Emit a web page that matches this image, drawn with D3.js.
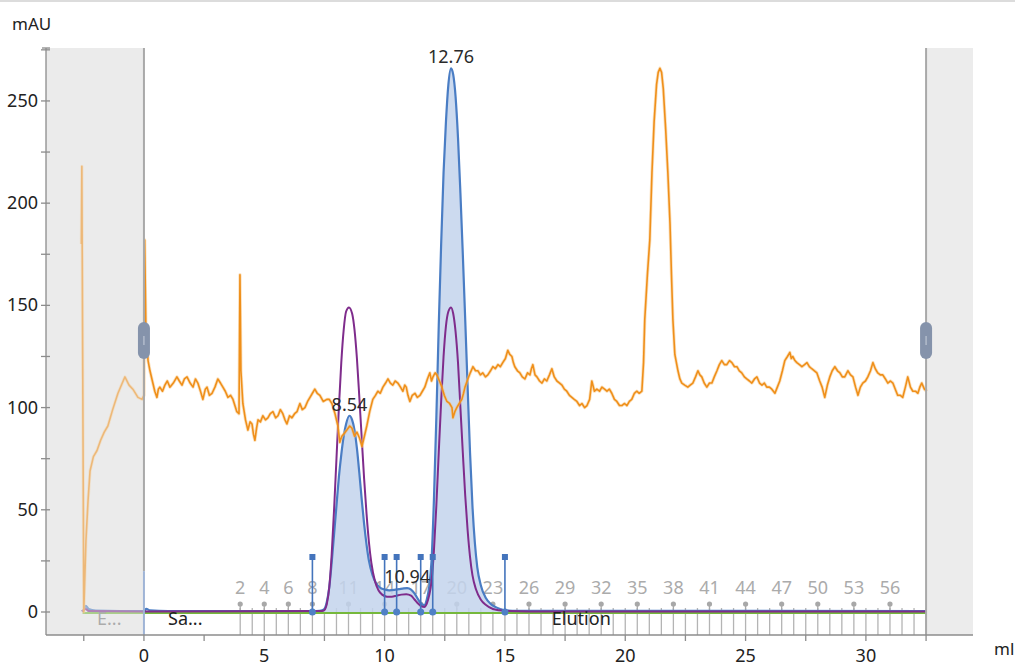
<!DOCTYPE html>
<html>
<head>
<meta charset="utf-8">
<script src="https://cdn.jsdelivr.net/npm/d3@7"></script>
<style>
  body { margin: 0; background: #fff; }
  svg { display: block; font-family: "Noto Sans", "Open Sans", sans-serif; }
</style>
</head>
<body>
<div id="chart"></div>
<script>
// chromatogram data: [ml, mAU]
var uv1 = [[-2.58,0.5],[-2.5,1],[-2.42,3],[-2.3,1.5],[-2.0,0.7],[-1,0.5],[0,0.5],[0.1,1.5],[0.25,0.8],[1,0.5],
  [7.0,0.5],[7.3,0.6],[7.4,0.8],[7.5,1.5],[7.6,5],[7.7,12],[7.8,24],[7.9,38],[8.0,52],[8.1,66],[8.2,77],[8.3,86],[8.4,92],
  [8.54,96],[8.65,94],[8.75,89],[8.85,80],[8.95,68],[9.05,55],[9.15,43],[9.25,33],[9.35,25],[9.5,18],[9.65,14],[9.8,12],
  [10.0,11],[10.2,10.6],[10.4,10.8],[10.6,11.2],[10.8,11.6],[10.94,11.7],[11.1,11],[11.25,9],[11.4,6],[11.55,3.8],[11.65,3.4],
  [11.75,6],[11.85,12],[11.95,25],[12.05,55],[12.15,95],[12.25,140],[12.35,180],[12.45,215],[12.55,240],[12.65,258],
  [12.76,266],[12.85,263],[12.95,252],[13.05,232],[13.15,205],[13.25,175],[13.35,143],[13.45,110],[13.55,78],[13.65,52],
  [13.75,34],[13.85,22],[14.0,13],[14.2,7],[14.4,4],[14.6,2.5],[14.8,1.5],[15.0,0.8],[15.5,0.6],[32.5,0.5]];

var uv2 = [[-2.58,0.3],[-2.42,1.5],[-2.3,0.5],[0,0.3],[7.4,0.5],[7.5,1],[7.6,4],[7.7,12],[7.8,28],[7.9,50],[8.0,75],[8.1,100],
  [8.2,122],[8.3,138],[8.4,147],[8.52,149],[8.65,146],[8.75,138],[8.85,124],[8.95,105],[9.05,85],[9.15,65],[9.25,48],[9.35,34],
  [9.45,24],[9.6,15],[9.75,10.5],[9.9,8.5],[10.1,7.5],[10.3,7.5],[10.5,8],[10.7,8.5],[10.9,8.7],[11.1,8],[11.25,6],[11.4,4],
  [11.55,2.7],[11.65,2.5],[11.75,4],[11.85,8],[11.95,15],[12.05,30],[12.15,52],[12.25,78],[12.35,103],[12.45,125],[12.55,140],
  [12.65,147],[12.76,149],[12.85,146],[12.95,137],[13.05,122],[13.15,100],[13.25,78],[13.35,57],[13.45,40],[13.55,27],
  [13.65,18],[13.8,11],[14.0,6],[14.2,3.5],[14.5,1.5],[15,0.6],[16,0.3],[32.5,0.3]];

var orange = [[-2.60,180],[-2.58,218],[-2.50,0],[-2.41,35],[-2.32,55],[-2.24,69],[-2.10,76],[-1.95,79],[-1.80,84],[-1.65,88],
  [-1.50,91],[-1.30,99],[-1.08,107],[-0.90,112],[-0.79,115],[-0.62,111],[-0.46,109],[-0.25,105],[-0.08,104],[0.00,106],
  [0.03,182],[0.08,140],[0.17,123],[0.25,118],[0.37,112],[0.45,108],[0.54,105],[0.60,109],[0.66,110],[0.77,108],[0.87,111],
  [0.97,113],[1.08,110],[1.22,112],[1.37,115],[1.47,113],[1.58,111],[1.68,114],[1.79,115],[1.92,112],[2.04,110],[2.14,114],
  [2.24,112],[2.35,108],[2.45,104],[2.55,109],[2.62,110],[2.72,106],[2.83,107],[2.95,110],[3.07,114],[3.18,112],[3.28,110],
  [3.38,108],[3.49,105],[3.60,106],[3.70,104],[3.86,98],[3.95,97],[3.99,165],[4.03,118],[4.11,102],[4.22,94],[4.32,89],
  [4.41,93],[4.49,92],[4.55,87],[4.61,84],[4.68,90],[4.74,94],[4.84,93],[4.94,96],[5.05,94],[5.15,95],[5.25,97],[5.36,98],
  [5.47,95],[5.57,96],[5.67,99],[5.77,97],[5.86,94],[5.94,92],[6.05,96],[6.15,95],[6.26,97],[6.36,98],[6.48,102],[6.58,99],
  [6.69,100],[6.80,103],[6.90,105],[7.00,107],[7.10,109],[7.20,107],[7.31,106],[7.45,103],[7.60,104],[7.70,104],[7.81,102],
  [7.94,97],[8.06,91],[8.14,83],[8.22,86],[8.30,87],[8.43,89],[8.55,91],[8.64,90],[8.75,86],[8.85,88],[8.96,85],[9.06,81],
  [9.16,86],[9.26,91],[9.38,98],[9.51,104],[9.62,106],[9.72,108],[9.82,107],[9.93,110],[10.04,112],[10.14,114],[10.24,112],
  [10.34,111],[10.44,113],[10.55,112],[10.66,110],[10.76,108],[10.84,111],[10.90,110],[10.97,106],[11.05,103],[11.15,106],
  [11.26,107],[11.36,105],[11.47,106],[11.57,108],[11.67,110],[11.78,114],[11.88,117],[11.95,113],[12.01,115],[12.10,117],
  [12.17,116],[12.28,113],[12.38,110],[12.48,106],[12.59,103],[12.70,102],[12.80,100],[12.84,95],[12.92,98],[13.00,100],
  [13.10,102],[13.21,104],[13.28,107],[13.34,110],[13.46,114],[13.56,117],[13.67,120],[13.78,118],[13.88,118],[13.98,116],
  [14.08,117],[14.19,115],[14.29,116],[14.40,118],[14.50,120],[14.60,119],[14.71,121],[14.81,120],[14.91,122],[15.02,124],
  [15.12,128],[15.20,126],[15.29,125],[15.35,122],[15.41,120],[15.52,118],[15.62,117],[15.72,115],[15.83,114],[15.94,117],
  [16.04,116],[16.10,119],[16.16,121],[16.25,116],[16.33,115],[16.44,113],[16.54,112],[16.64,114],[16.74,113],[16.85,116],
  [16.95,119],[17.05,115],[17.16,113],[17.27,112],[17.37,111],[17.47,109],[17.57,108],[17.68,106],[17.78,105],[17.88,104],
  [17.99,103],[18.10,101],[18.20,102],[18.31,100],[18.41,101],[18.52,104],[18.61,113],[18.72,108],[18.82,109],[18.93,108],
  [19.03,110],[19.14,109],[19.24,108],[19.34,109],[19.44,107],[19.55,104],[19.65,103],[19.76,101],[19.86,101],[19.97,102],
  [20.07,101],[20.17,103],[20.27,104],[20.38,107],[20.48,108],[20.58,107],[20.69,108],[20.76,122],[20.81,143],[20.92,165],
  [21.02,182],[21.11,215],[21.20,240],[21.30,258],[21.37,264],[21.44,266],[21.51,264],[21.58,256],[21.68,236],[21.77,215],
  [21.86,190],[21.92,165],[21.98,143],[22.06,126],[22.19,118],[22.27,114],[22.35,112],[22.47,111],[22.60,110],[22.70,111],
  [22.81,112],[22.92,115],[23.02,118],[23.10,116],[23.18,115],[23.28,112],[23.39,110],[23.50,112],[23.60,112],[23.70,115],
  [23.81,118],[23.91,121],[24.01,123],[24.12,121],[24.22,121],[24.33,123],[24.43,122],[24.54,120],[24.64,120],[24.74,118],
  [24.84,117],[24.95,115],[25.05,114],[25.16,113],[25.26,112],[25.37,114],[25.47,115],[25.58,112],[25.68,111],[25.78,112],
  [25.88,110],[25.99,110],[26.09,109],[26.22,107],[26.32,110],[26.42,113],[26.53,118],[26.63,123],[26.74,125],[26.84,127],
  [26.90,124],[26.96,125],[27.05,123],[27.13,122],[27.24,121],[27.34,120],[27.45,121],[27.55,122],[27.65,120],[27.75,119],
  [27.86,118],[27.96,117],[28.08,113],[28.18,110],[28.29,105],[28.40,111],[28.50,115],[28.60,118],[28.71,120],[28.82,118],
  [28.92,117],[29.02,115],[29.12,115],[29.25,118],[29.36,116],[29.46,115],[29.57,110],[29.67,106],[29.77,110],[29.87,112],
  [29.98,113],[30.08,115],[30.19,118],[30.29,122],[30.39,119],[30.49,117],[30.60,116],[30.70,116],[30.81,114],[30.91,112],
  [31.02,113],[31.12,112],[31.22,109],[31.32,106],[31.43,106],[31.53,105],[31.64,110],[31.74,115],[31.85,110],[31.95,108],
  [32.06,108],[32.16,107],[32.24,110],[32.32,112],[32.43,109],[32.53,108]];

var conc = [[-2.55,-0.5],[32.53,-0.5]];

// integration limits and peak labels
var peakLimits = [7.0, 10.0, 10.5, 11.5, 12.0, 15.0];
var peakLabels = [[8.54, 96, "8.54"], [10.94, 11.7, "10.94"], [12.76, 266, "12.76"]];

// fractions: 0.5 ml each, labelled ones
var fracFirst = 4.0, fracLast = 32.5, fracSize = 0.5;
var fracLabels = [2, 4, 6, 8, 11, 14, 17, 20, 23, 26, 29, 32, 35, 38, 41, 44, 47, 50, 53, 56];

// run log events
var events = [[-1.95, "E...", "#777"], [1.0, "Sa...", "#222"], [16.95, "Elution", "#222"]];

var yTicks = [0, 25, 50, 75, 100, 125, 150, 175, 200, 225, 250, 275];
var xTicks = [-2.5, 0, 2.5, 5, 7.5, 10, 12.5, 15, 17.5, 20, 22.5, 25, 27.5, 30, 32.5];

(function() {
  var width = 1015, height = 665;
  var pLeft = 46, pRight = 973, pTop = 48, pBottom = 635;

  var svg = d3.select("#chart").append("svg")
    .attr("width", width).attr("height", height);

  svg.append("rect").attr("width", width).attr("height", height).attr("fill", "#fff");
  svg.append("rect").attr("width", width).attr("height", 2).attr("fill", "#dcdcdc");

  var x = d3.scaleLinear().domain([-4.07, 34.45]).range([pLeft, pRight]);
  var y = d3.scaleLinear().domain([-11.25, 275.9]).range([pBottom, pTop]);

  // shaded (outside view) regions
  svg.append("rect").attr("x", pLeft).attr("y", pTop).attr("width", x(0) - pLeft).attr("height", pBottom - pTop).attr("fill", "#ececec");
  svg.append("rect").attr("x", x(32.5)).attr("y", pTop).attr("width", pRight - x(32.5)).attr("height", pBottom - pTop).attr("fill", "#ececec");

  // fractions
  var fracs = d3.range(fracFirst, fracLast + 0.001, fracSize);
  svg.append("g").selectAll("line").data(fracs).enter().append("line")
    .attr("x1", function(d) { return x(d); }).attr("x2", function(d) { return x(d); })
    .attr("y1", 608).attr("y2", pBottom)
    .attr("stroke", "#b4b4b4").attr("stroke-width", 1.3);

  var fracG = svg.append("g").selectAll("g").data(fracLabels).enter().append("g")
    .attr("transform", function(n) { return "translate(" + x(fracFirst + (n - 2) * fracSize) + ",0)"; });
  fracG.append("line").attr("y1", 603).attr("y2", 610).attr("stroke", "#a8a8a8").attr("stroke-width", 1.3);
  fracG.append("circle").attr("cy", 604).attr("r", 2.6).attr("fill", "#a8a8a8");
  fracG.append("text").attr("y", 594).attr("text-anchor", "middle")
    .attr("font-size", 18).attr("fill", "#ababab").text(function(n) { return n; });

  // peak fill
  var inPeak = uv1.filter(function(d) { return d[0] >= peakLimits[0] && d[0] <= peakLimits[peakLimits.length - 1]; });
  svg.append("path").datum(inPeak)
    .attr("d", d3.area().curve(d3.curveMonotoneX)
      .x(function(d) { return x(d[0]); }).y0(y(0)).y1(function(d) { return y(d[1]); }))
    .attr("fill", "#c3d4ec").attr("fill-opacity", 0.85);

  var line = d3.line().curve(d3.curveMonotoneX)
    .x(function(d) { return x(d[0]); }).y(function(d) { return y(d[1]); });
  var lineLin = d3.line()
    .x(function(d) { return x(d[0]); }).y(function(d) { return y(d[1]); });

  svg.append("path").datum(conc).attr("d", lineLin).attr("fill", "none").attr("stroke", "#76b83c").attr("stroke-width", 2);
  svg.append("path").datum(uv1).attr("d", line).attr("fill", "none").attr("stroke", "#4a7dc4").attr("stroke-width", 2.2);
  svg.append("path").datum(uv2).attr("d", line).attr("fill", "none").attr("stroke", "#7f2c8c").attr("stroke-width", 2);
  // soft halo under the orange trace, then the trace itself
  svg.append("path").datum(orange).attr("d", lineLin).attr("fill", "none").attr("stroke", "#f7c27a")
    .attr("stroke-width", 3.2).attr("stroke-opacity", 0.5).attr("stroke-linejoin", "round");
  svg.append("path").datum(orange).attr("d", lineLin).attr("fill", "none").attr("stroke", "#ef8f1a")
    .attr("stroke-width", 1.6).attr("stroke-linejoin", "round");

  // integration limit markers
  var lim = svg.append("g").selectAll("g").data(peakLimits).enter().append("g")
    .attr("transform", function(d) { return "translate(" + x(d) + ",0)"; });
  lim.append("line").attr("y1", 557).attr("y2", y(0)).attr("stroke", "#4474bc").attr("stroke-width", 1.6);
  lim.append("rect").attr("x", -3).attr("y", 554).attr("width", 6).attr("height", 6).attr("fill", "#4474bc");
  lim.append("circle").attr("cy", y(0)).attr("r", 3.5).attr("fill", "#4f80c6");

  // event text
  svg.append("g").selectAll("text").data(events).enter().append("text")
    .attr("x", function(d) { return x(d[0]); }).attr("y", 625)
    .attr("font-size", 18).attr("fill", function(d) { return d[2]; }).text(function(d) { return d[1]; });

  // dim everything left of the view start
  svg.append("rect").attr("x", pLeft).attr("y", pTop).attr("width", x(0) - pLeft).attr("height", pBottom - pTop)
    .attr("fill", "#ececec").attr("fill-opacity", 0.45);

  // injection mark and view limits
  svg.append("line").attr("x1", x(0)).attr("x2", x(0)).attr("y1", y(20)).attr("y2", pBottom)
    .attr("stroke", "#9fb4d6").attr("stroke-width", 2);
  [0, 32.5].forEach(function(v) {
    svg.append("line").attr("x1", x(v)).attr("x2", x(v)).attr("y1", pTop).attr("y2", v === 0 ? y(20) : pBottom)
      .attr("stroke", "#a9a9a9").attr("stroke-width", 2);
    svg.append("rect").attr("x", x(v) - 6).attr("y", 322).attr("width", 12).attr("height", 37)
      .attr("rx", 6).attr("fill", "#8593ab");
    svg.append("line").attr("x1", x(v)).attr("x2", x(v)).attr("y1", 336).attr("y2", 345)
      .attr("stroke", "#c9d0dc").attr("stroke-width", 1);
  });

  // peak labels
  svg.append("g").selectAll("text").data(peakLabels).enter().append("text")
    .attr("x", function(d) { return x(d[0]); }).attr("y", function(d) { return y(d[1]) - 5; })
    .attr("text-anchor", "middle").attr("font-size", 18).attr("fill", "#2a2a2a")
    .text(function(d) { return d[2]; });

  // axes
  var yAxis = svg.append("g").attr("transform", "translate(" + pLeft + ",0)");
  yAxis.append("line").attr("y1", pTop).attr("y2", pBottom).attr("stroke", "#8c8c8c").attr("stroke-width", 1.3);
  yAxis.selectAll(".t").data(yTicks).enter().append("line")
    .attr("x1", -5).attr("x2", 4).attr("y1", function(d) { return y(d); }).attr("y2", function(d) { return y(d); })
    .attr("stroke", "#8c8c8c").attr("stroke-width", 1.3);
  yAxis.append("line").attr("x1", -4).attr("x2", 4).attr("y1", pTop).attr("y2", pTop).attr("stroke", "#8c8c8c").attr("stroke-width", 1.3);
  yAxis.selectAll("text").data(yTicks.filter(function(d) { return d % 50 === 0; })).enter().append("text")
    .attr("x", -8).attr("y", function(d) { return y(d) + 6; }).attr("text-anchor", "end")
    .attr("font-size", 18).attr("fill", "#222").text(function(d) { return d; });

  var xAxis = svg.append("g").attr("transform", "translate(0," + pBottom + ")");
  xAxis.append("line").attr("x1", pLeft).attr("x2", pRight).attr("stroke", "#8c8c8c").attr("stroke-width", 1.3);
  xAxis.selectAll(".t").data(xTicks).enter().append("line")
    .attr("x1", function(d) { return x(d); }).attr("x2", function(d) { return x(d); })
    .attr("y1", 0).attr("y2", 6).attr("stroke", "#8c8c8c").attr("stroke-width", 1.3);
  xAxis.selectAll("text").data(xTicks.filter(function(d) { return d >= 0 && d % 5 === 0; })).enter().append("text")
    .attr("x", function(d) { return x(d); }).attr("y", 27).attr("text-anchor", "middle")
    .attr("font-size", 18).attr("fill", "#222").text(function(d) { return d; });

  svg.append("text").attr("x", 12).attr("y", 30).attr("font-size", 17).attr("fill", "#222").text("mAU");
  svg.append("text").attr("x", 994).attr("y", 655).attr("font-size", 17).attr("fill", "#222").text("ml");
})();
</script>
</body>
</html>
